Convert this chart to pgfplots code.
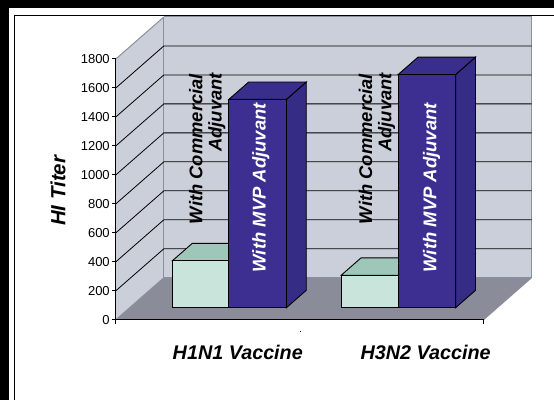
\documentclass[border=0pt]{standalone}
\usepackage{pgfplots}
\usepackage{fontspec}
\setmainfont{Liberation Sans}
\pgfplotsset{compat=1.18}
\definecolor{wall}{HTML}{CBCFDA}
\definecolor{wallline}{HTML}{8E8F9E}
\definecolor{floorc}{HTML}{8B8C99}
\definecolor{lightf}{HTML}{C9E5DB}
\definecolor{lightt}{HTML}{9EC6B9}
\definecolor{mvpf}{HTML}{3D2F91}
\definecolor{mvpt}{HTML}{3A2E8C}
\definecolor{mvps}{HTML}{352C85}
\newcommand{\lab}[1]{\fontsize{#1pt}{#1pt}\selectfont\bfseries\itshape}
\begin{document}
\begin{tikzpicture}[x=1pt,y=1pt]
\fill[black] (0,0) rectangle (554,400);
\fill[white] (9,0) rectangle (554,392);
\draw[black,line width=1pt] (15,0) -- (15,384.5) -- (554,384.5);
\begin{axis}[
  at={(116pt,80pt)},anchor=origin,
  x={(184pt,0pt)},y={(48pt,42pt)},z={(0pt,0.145pt)},
  xmin=0,xmax=2,ymin=0,ymax=1,zmin=0,zmax=1800,
  clip=false,
  axis lines*=left,
  xtick=\empty,
  ytick=\empty,
  ztick={0,200,...,1800},
  axis line style={draw=none},
  major tick length=0pt,
  /pgf/number format/assume math mode=true,
  /pgf/number format/1000 sep={},
  ticklabel style={font=\fontsize{13pt}{13pt}\selectfont},
  z tick label style={anchor=east,inner sep=0pt,xshift=-6pt,yshift=-0.5pt},
  every axis plot/.append style={no marks,forget plot},
]
% walls and floor
\addplot3[fill=wall,draw=none] coordinates {(0,0,0) (0,1,0) (0,1,1800) (0,0,1800)} --cycle;
\addplot3[fill=wall,draw=none] coordinates {(0,1,0) (2,1,0) (2,1,1800) (0,1,1800)} --cycle;
\addplot3[fill=floorc,draw=none] coordinates {(0,0,0) (2,0,0) (2,1,0) (0,1,0)} --cycle;
\addplot3[wallline,line width=1.2pt] coordinates {(0,1,0) (0,1,1800)};
\addplot3[wallline,line width=1.2pt] coordinates {(2,1,0) (2,1,1800)};
\addplot3[wallline,line width=1pt] coordinates {(0,0,1800) (0,1,1800)};
\addplot3[wallline,line width=1pt] coordinates {(0,0,0) (0,1,0)};
\addplot3[wallline,line width=1pt] coordinates {(0,1,1800) (2,1,1800)};
\addplot3[wallline,line width=1pt] coordinates {(0,1,0) (2,1,0)};
\addplot3[wallline,line width=1pt] coordinates {(2,0,0) (2,1,0)};
% gridlines
\foreach \v in {200,400,...,1600}{
  \edef\tmp{\noexpand\addplot3[black,line width=0.8pt] coordinates {(0,0,\v) (0,1,\v) (2,1,\v)};}
  \tmp
}
% axis lines and ticks
\foreach \v in {0,200,...,1800}{
  \edef\tmp{\noexpand\addplot3[black,line width=0.9pt] coordinates {(-0.0217,0,\v) (0,0,\v)};}
  \tmp
}
\addplot3[black,line width=0.9pt] coordinates {(0,0,1800) (0,0,-28)};
\addplot3[black,line width=0.9pt] coordinates {(0,0,0) (2,0,0) (2,0,-28)};
% H1N1 commercial
\addplot3[fill=lightt,draw=black,line width=0.9pt] coordinates {(0.2326,0.2857,324) (0.5397,0.2857,324) (0.5397,0.70,324) (0.2326,0.70,324)} --cycle;
\addplot3[fill=lightf,draw=black,line width=0.9pt] coordinates {(0.2326,0.2857,0) (0.5397,0.2857,0) (0.5397,0.2857,324) (0.2326,0.2857,324)} --cycle;
% H1N1 MVP
\addplot3[fill=mvps,draw=black,line width=0.9pt] coordinates {(0.853,0.2857,0) (0.853,0.70,0) (0.853,0.70,1438) (0.853,0.2857,1438)} --cycle;
\addplot3[fill=mvpt,draw=black,line width=0.9pt] coordinates {(0.5397,0.2857,1438) (0.853,0.2857,1438) (0.853,0.70,1438) (0.5397,0.70,1438)} --cycle;
\addplot3[fill=mvpf,draw=black,line width=0.9pt] coordinates {(0.5397,0.2857,0) (0.853,0.2857,0) (0.853,0.2857,1438) (0.5397,0.2857,1438)} --cycle;
% H3N2 commercial
\addplot3[fill=lightt,draw=black,line width=0.9pt] coordinates {(1.151,0.2857,224) (1.461,0.2857,224) (1.461,0.70,224) (1.151,0.70,224)} --cycle;
\addplot3[fill=lightf,draw=black,line width=0.9pt] coordinates {(1.151,0.2857,0) (1.461,0.2857,0) (1.461,0.2857,224) (1.151,0.2857,224)} --cycle;
% H3N2 MVP
\addplot3[fill=mvps,draw=black,line width=0.9pt] coordinates {(1.7735,0.2857,0) (1.7735,0.70,0) (1.7735,0.70,1610) (1.7735,0.2857,1610)} --cycle;
\addplot3[fill=mvpt,draw=black,line width=0.9pt] coordinates {(1.461,0.2857,1610) (1.7735,0.2857,1610) (1.7735,0.70,1610) (1.461,0.70,1610)} --cycle;
\addplot3[fill=mvpf,draw=black,line width=0.9pt] coordinates {(1.461,0.2857,0) (1.7735,0.2857,0) (1.7735,0.2857,1610) (1.461,0.2857,1610)} --cycle;
\end{axis}
% text
\node[rotate=90,inner sep=0pt,font=\lab{20.5}] at (58,209) {HI Titer};
\node[inner sep=0pt,font=\lab{19.8}] at (238,47) {H1N1 Vaccine};
\node[inner sep=0pt,font=\lab{19.8}] at (426,47) {H3N2 Vaccine};
\foreach \xx in {196,366}{
  \node[rotate=90,anchor=east,inner sep=0pt,font=\lab{18.4}] at (\xx,326) {With Commercial};
  \node[rotate=90,anchor=east,inner sep=0pt,font=\lab{18.4}] at (\xx+21,327) {Adjuvant};
}
\foreach \xx in {261,432}{
  \node[rotate=90,anchor=east,inner sep=0pt,text=white,font=\lab{18.5}] at (\xx,297) {With MVP Adjuvant};
}
\fill[black] (300.5,67.5) rectangle (301.5,68.5);
\end{tikzpicture}
\end{document}
